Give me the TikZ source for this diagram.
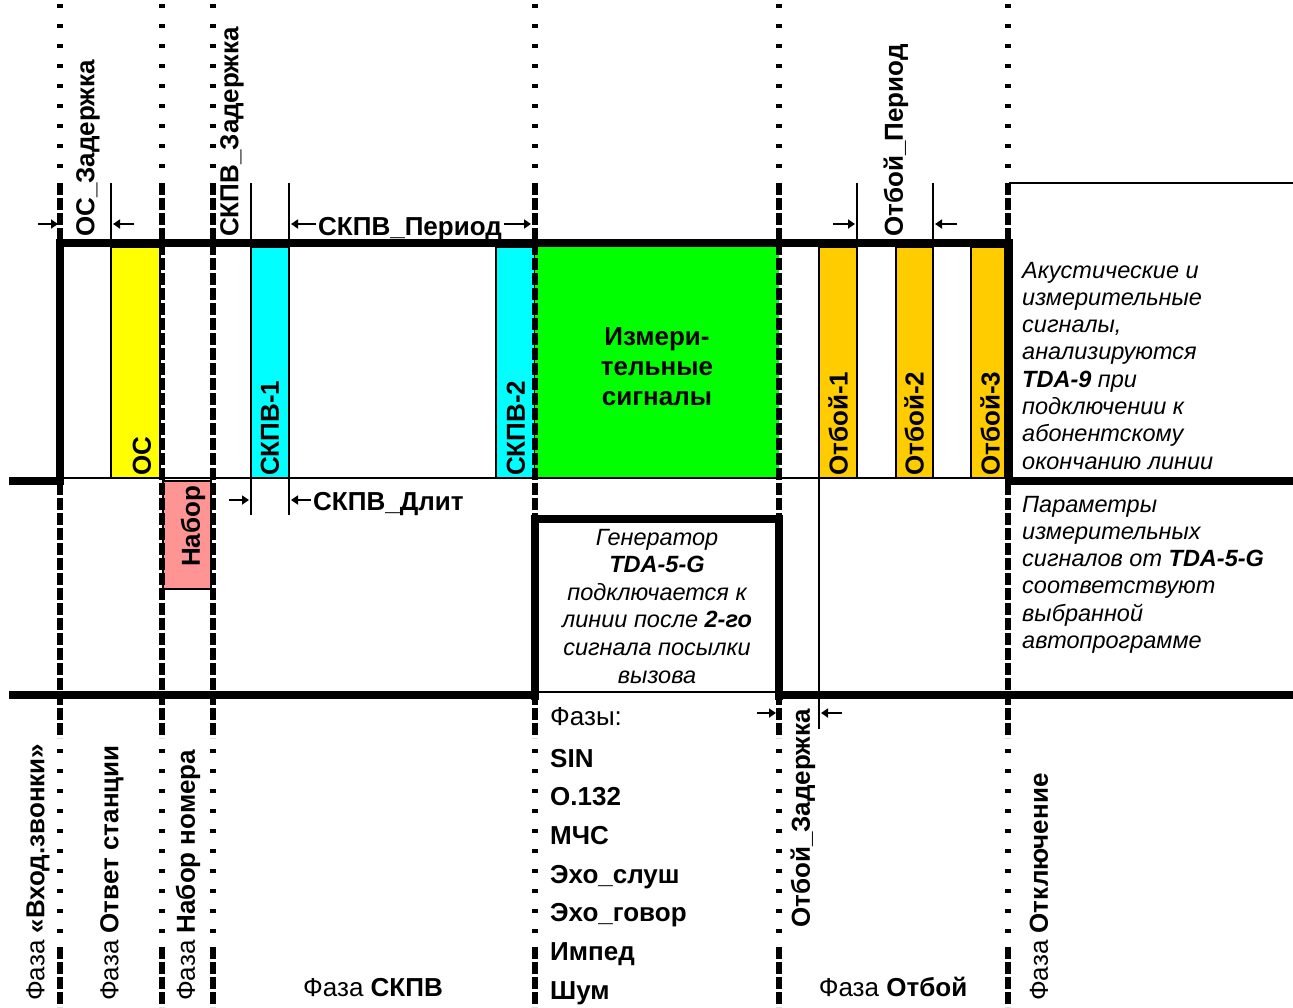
\documentclass[tikz,border=0pt]{standalone}
\usepackage{fontspec}
\setmainfont{Liberation Sans}
\usetikzlibrary{arrows.meta}
\definecolor{cyel}{RGB}{255,255,0}
\definecolor{ccyan}{RGB}{0,255,255}
\definecolor{cgreen}{RGB}{0,255,0}
\definecolor{corange}{RGB}{255,204,0}
\definecolor{cpink}{RGB}{255,148,148}
\begin{document}
\begin{tikzpicture}[x=1pt,y=-1pt,
  septhin/.style={line width=6pt, dash pattern=on 3.5pt off 16.5pt},
  septhick/.style={line width=6pt, dash pattern=on 12pt off 3pt},
  sig/.style={line width=8.5pt, line join=miter},
  fine/.style={line width=1.5pt},
  cbox/.style={draw=black, line width=1.3pt},
  arr/.style={line width=2.5pt, -{Triangle[length=7pt,width=9pt]}},
  bl/.style={font=\fontsize{26}{30}\selectfont\bfseries, inner sep=0pt},
  rl/.style={font=\fontsize{26}{30}\selectfont, inner sep=0pt},
  vt/.style={rotate=90, anchor=west},
  itl/.style={font=\fontsize{23.5}{27.5}\selectfont\itshape, inner sep=0pt},
]
\useasboundingbox (0,0) rectangle (1293,1007);

% coloured pulses
\filldraw[fill=cyel, cbox] (111,247) rectangle (160,478);
\filldraw[fill=ccyan, cbox] (251,247) rectangle (289,478);
\filldraw[fill=ccyan, cbox] (496,247) rectangle (535,478);
\fill[cgreen] (535,247) rectangle (779,478);
\filldraw[fill=corange, cbox] (819,247) rectangle (857,478);
\filldraw[fill=corange, cbox] (896,247) rectangle (933,478);
\filldraw[fill=corange, cbox] (971,247) rectangle (1005,478);
\filldraw[fill=cpink, cbox] (163,481) rectangle (211,589);

% thin reference lines
\draw[fine] (60,478) -- (1009,478);
\draw[fine] (1009,183) -- (1293,183);
\draw[fine] (535,692) -- (779,692);
\draw[fine] (111,183) -- (111,247);
\draw[fine] (251,183) -- (251,515);
\draw[fine] (289,183) -- (289,515);
\draw[fine] (857,183) -- (857,247);
\draw[fine] (933,183) -- (933,247);
\draw[fine] (819,478) -- (819,729);

% phase separators
\foreach \x in {60,162,213,535,779,1008} {
  \draw[septhin, dash phase=15.75pt] (\x,0) -- (\x,183);
  \draw[septhick] (\x,183) -- (\x,738);
  \draw[septhin, dash phase=8.75pt] (\x,738) -- (\x,947);
  \draw[septhick] (\x,947) -- (\x,1007);
}

% signal levels
\draw[sig] (9,481) -- (60,481) -- (60,243) -- (1009,243) -- (1009,481) -- (1293,481);
\draw[sig] (9,695) -- (539,695);
\draw[sig] (535,700) -- (535,519) -- (779,519) -- (779,700);
\draw[sig] (775,695) -- (1293,695);

% upper labels
\node[bl, vt] (osz) at (88,237) {ОС\_Задержка};
\node[bl, vt] (skpvz) at (232,237) {СКПВ\_Задержка};
\node[bl, vt] (otbp) at (896,237) {Отбой\_Период};
\node[bl, anchor=base west] (skpvp) at (318,235) {СКПВ\_Период};
\node[bl, anchor=base west] (skpvd) at (313,510) {СКПВ\_Длит};

% small arrows
\draw[arr] (38,224) -- (58,224);
\draw[arr] (134,224) -- (113,224);
\draw[arr] (833,224) -- (855,224);
\draw[arr] (957,224) -- (935,224);
\draw[arr] (229,500) -- (249,500);
\draw[arr] (757,713) -- (776,713);
\draw[arr] (842,713) -- (821,713);
\draw[arr] (skpvp.west |- 0,224) ++(-2,0) -- (291,224);
\draw[arr] (skpvp.east |- 0,224) ++(2,0) -- (531,224);
\draw[arr] (skpvd.west |- 0,500) ++(-2,0) -- (291,500);

% pulse labels
\node[bl, vt] (os) at (142,476) {ОС};
\node[bl, vt] (s1) at (270,476) {СКПВ-1};
\node[bl, vt] (s2) at (516,476) {СКПВ-2};
\node[bl, vt] (o1) at (838,476) {Отбой-1};
\node[bl, vt] (o2) at (914,476) {Отбой-2};
\node[bl, vt] (o3) at (990,476) {Отбой-3};
\node[bl, vt] (nab) at (193,567) {Набор};
\node[bl, anchor=base] (m1) at (657,345) {Измери-};
\node[bl, anchor=base] (m2) at (657,375) {тельные};
\node[bl, anchor=base] (m3) at (657,405) {сигналы};

% generator text
\foreach \t [count=\i from 0] in {{Генератор},{\textbf{TDA-5-G}},{подключается к},{линии после \textbf{2-го}},{сигнала посылки},{вызова}}
  \node[itl, anchor=base] (gen\i) at (657,545+27.6*\i) {\t};

% right notes
\foreach \t [count=\i from 0] in {{Акустические и},{измерительные},{сигналы,},{анализируются},{\textbf{TDA-9} при},{подключении к},{абонентскому},{окончанию линии}}
  \node[itl, anchor=base west] (ra\i) at (1022,278+27.3*\i) {\t};
\foreach \t [count=\i from 0] in {{Параметры},{измерительных},{сигналов от \textbf{TDA-5-G}},{соответствуют},{выбранной},{автопрограмме}}
  \node[itl, anchor=base west] (rb\i) at (1022,512+27.3*\i) {\t};

% phase list
\node[rl, anchor=base west] (fz) at (550,725) {Фазы:};
\foreach \t [count=\i from 0] in {SIN,O.132,МЧС,Эхо\_слуш,Эхо\_говор,Импед,Шум}
  \node[bl, anchor=base west] (ph\i) at (550,767+38.7*\i) {\t};

\node[bl, vt] (otbz) at (803,928) {Отбой\_Задержка};

% phase names
\node[rl, vt] (f1) at (38,1001) {Фаза \textbf{«Вход.звонки»}};
\node[rl, vt] (f2) at (112,1001) {Фаза \textbf{Ответ станции}};
\node[rl, vt] (f3) at (188,1001) {Фаза \textbf{Набор номера}};
\node[rl, anchor=base] (f4) at (373,996) {Фаза \textbf{СКПВ}};
\node[rl, anchor=base] (f5) at (893,996) {Фаза \textbf{Отбой}};
\node[rl, vt] (f6) at (1039,1001) {Фаза \textbf{Отключение}};
\end{tikzpicture}
\end{document}
